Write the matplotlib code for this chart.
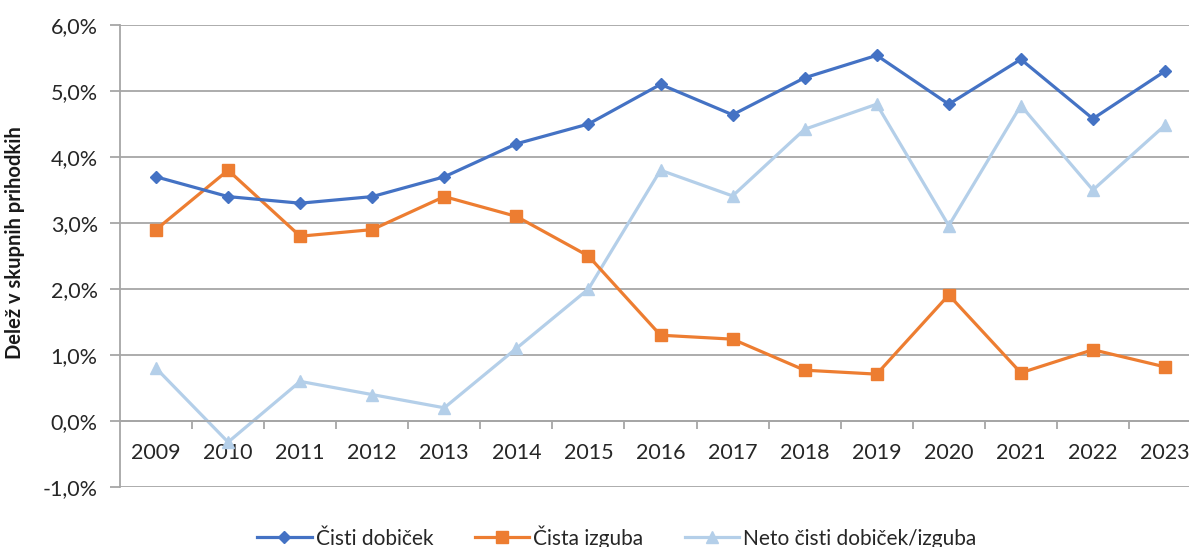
import numpy as np
import matplotlib
matplotlib.use('Agg')
import matplotlib.pyplot as plt
from matplotlib.ticker import FuncFormatter, FixedLocator

years = ['2009', '2010', '2011', '2012', '2013', '2014', '2015', '2016',
         '2017', '2018', '2019', '2020', '2021', '2022', '2023']
cisti_dobicek = [3.7, 3.4, 3.3, 3.4, 3.7, 4.2, 4.5, 5.1, 4.64, 5.2, 5.54, 4.8, 5.48, 4.58, 5.3]
cista_izguba = [2.9, 3.8, 2.8, 2.9, 3.4, 3.1, 2.5, 1.3, 1.24, 0.77, 0.71, 1.91, 0.73, 1.08, 0.82]
neto = [0.8, -0.32, 0.6, 0.4, 0.2, 1.1, 2.0, 3.8, 3.41, 4.42, 4.8, 2.96, 4.78, 3.5, 4.48]

labels = ['Čisti dobiček', 'Čista izguba', 'Neto čisti dobiček/izguba']

plt.rcParams['font.family'] = ['Lato', 'DejaVu Sans']

fig = plt.figure(figsize=(11.89, 5.47), dpi=100)
ax = fig.add_axes([120/1189, 60/547, 1081/1189, 462/547])

x = np.arange(len(years))
grid_c = '#a6a6a6'
ax.plot(x, cisti_dobicek, color='#4472C4', lw=2.3, marker='D', ms=6.5, label=labels[0], zorder=4)
ax.plot(x, cista_izguba, color='#ED7D31', lw=2.3, marker='s', ms=8, label=labels[1], zorder=3)
ax.plot(x, neto, color='#B4CFE9', lw=2.3, marker='^', ms=9, label=labels[2], zorder=2)

ax.set_xlim(-0.5, len(years) - 0.5)
ax.set_ylim(-1, 6)
ax.set_yticks(np.arange(-1, 7, 1))
ax.yaxis.set_major_formatter(FuncFormatter(lambda v, p: ('%.1f%%' % v).replace('.', ',')))
ax.grid(axis='y', color=grid_c, lw=1.3, zorder=0)
ax.set_axisbelow(True)

for s in ['top', 'right']:
    ax.spines[s].set_visible(False)
ax.spines['left'].set_color(grid_c)
ax.spines['left'].set_linewidth(1.3)
ax.spines['bottom'].set_position(('data', 0))
ax.spines['bottom'].set_color(grid_c)
ax.spines['bottom'].set_linewidth(1.3)

ax.set_xticks(x)
ax.set_xticklabels(years)
ax.xaxis.set_minor_locator(FixedLocator(np.arange(0.5, len(years) - 0.5, 1)))
ax.tick_params(axis='x', which='major', length=0, pad=16, labelsize=15.5, labelcolor='#262626')
ax.tick_params(axis='x', which='minor', length=6, width=1.3, color=grid_c, direction='out')
ax.tick_params(axis='y', length=7, width=1.3, color=grid_c, pad=9, labelsize=15.5, labelcolor='#262626')

ax.set_ylabel('Delež v skupnih prihodkih', fontsize=14.5, fontweight='bold', color='#1a1a1a')
ax.yaxis.set_label_coords(-0.088, 0.53)

fig.legend(loc='center', bbox_to_anchor=(617/1189, 10/547), ncol=3, frameon=False,
           fontsize=15, handlelength=2.6, columnspacing=2.0, handletextpad=0.2,
           labelcolor='#262626')

fig.savefig('out.png', dpi=100)
